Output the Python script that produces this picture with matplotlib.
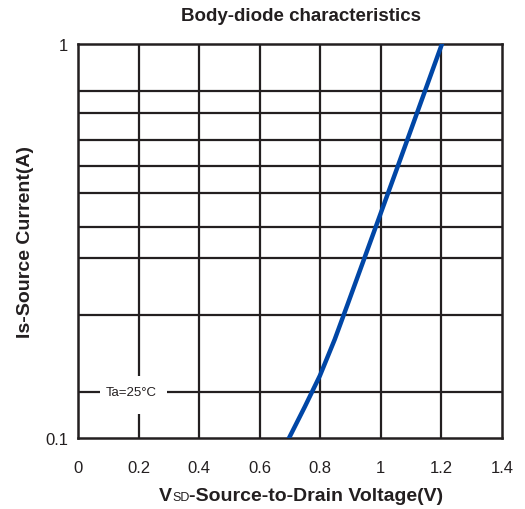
import matplotlib.pyplot as plt
from matplotlib.ticker import NullLocator
from matplotlib.patches import Rectangle
from matplotlib.offsetbox import TextArea, HPacker, AnnotationBbox

plt.rcParams['font.family'] = ['Liberation Sans', 'DejaVu Sans']

# body-diode curve
vsd = [0.697, 0.749, 0.799, 0.848, 0.891, 1.047, 1.202]
is_a = [0.100, 0.120, 0.144, 0.178, 0.219, 0.468, 1.0]

x_ticks = [0, 0.2, 0.4, 0.6, 0.8, 1.0, 1.2, 1.4]
x_labels = ['0', '0.2', '0.4', '0.6', '0.8', '1', '1.2', '1.4']
y_ticks = [0.1, 1]
y_labels = ['0.1', '1']
# the datasheet grid is not a true log grid, so keep its lines as drawn
y_grid = [0.131, 0.205, 0.286, 0.343, 0.419, 0.490, 0.571, 0.668, 0.760]

INK = '#231f20'
BLUE = '#0046a6'

fig = plt.figure(figsize=(5.25, 5.1), dpi=100)
ax = fig.add_axes([0.1486, 0.1392, 0.8074, 0.7726])

ax.set_yscale('log')
ax.set_xlim(0, 1.4)
ax.set_ylim(0.1, 1)

for v in x_ticks[1:-1]:
    ax.axvline(v, color=INK, lw=1.6, zorder=1)
for v in y_grid:
    ax.axhline(v, color=INK, lw=1.6, zorder=1)

ax.plot(vsd, is_a, color=BLUE, lw=3.2, zorder=3, solid_joinstyle='round')

# Ta label sits on a white patch that breaks the grid lines
ax.add_patch(Rectangle((0.073, 0.115), 0.221, 0.0286, facecolor='white',
                       edgecolor='none', zorder=2))
ax.text(0.175, y_grid[0], 'Ta=25°C', fontsize=9.5, color=INK,
        ha='center', va='center', zorder=4)

ax.set_xticks(x_ticks, labels=x_labels)
ax.set_yticks(y_ticks, labels=y_labels)
ax.yaxis.set_minor_locator(NullLocator())
ax.tick_params(axis='both', length=0, labelsize=12, colors=INK)
ax.tick_params(axis='x', pad=16)
ax.tick_params(axis='y', pad=7)

for s in ax.spines.values():
    s.set_color(INK)
    s.set_linewidth(1.8)

fig.text(0.573, 0.967, 'Body-diode characteristics', ha='center', va='center',
         fontsize=13.5, fontweight='bold', color=INK)
fig.text(0.048, 0.525, 'Is-Source Current(A)', ha='center', va='center',
         rotation=90, fontsize=14, fontweight='bold', color=INK)

# x label with small "SD" letters after the V
parts = HPacker(children=[
    TextArea('V', textprops=dict(fontsize=14, fontweight='bold', color=INK)),
    TextArea('SD', textprops=dict(fontsize=9, color=INK)),
    TextArea('-Source-to-Drain Voltage(V)',
             textprops=dict(fontsize=14, fontweight='bold', color=INK)),
], align='baseline', pad=0, sep=0)
fig.add_artist(AnnotationBbox(parts, (0.574, 0.026), xycoords='figure fraction',
                              frameon=False, box_alignment=(0.5, 0.5)))

fig.savefig('out.png', dpi=100)
